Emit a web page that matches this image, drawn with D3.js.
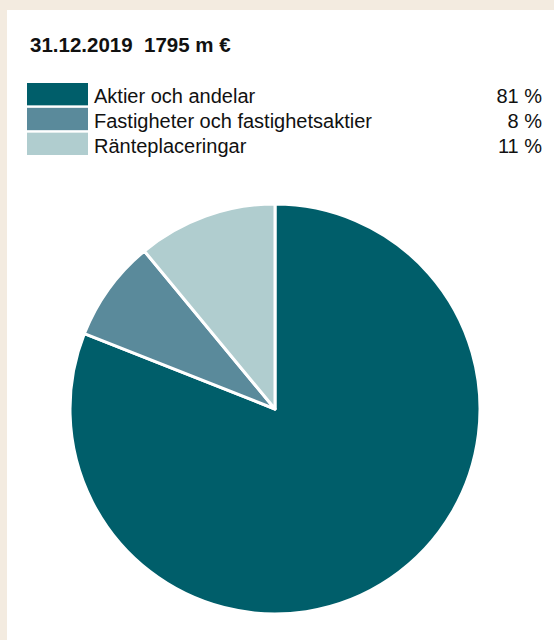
<!DOCTYPE html>
<html>
<head>
<meta charset="utf-8">
<script src="https://cdn.jsdelivr.net/npm/d3@7"></script>
<style>
  body { margin: 0; background: #f3ebe0; }
  svg { display: block; }
</style>
</head>
<body>
<svg></svg>
<script>
const width = 554;
const height = 640;

const title = '31.12.2019  1795 m €';
const categories = ['Aktier och andelar', 'Fastigheter och fastighetsaktier', 'Ränteplaceringar'];
const values = [81, 8, 11];
const colors = ['#005e6a', '#5a8a9b', '#b0cdcf'];

const svg = d3.select('svg')
  .attr('width', width)
  .attr('height', height);

// white panel
svg.append('rect')
  .attr('x', 7)
  .attr('y', 10)
  .attr('width', width - 7)
  .attr('height', height - 10)
  .attr('fill', '#fff');

svg.append('text')
  .attr('x', 30)
  .attr('y', 52)
  .attr('font-family', 'Liberation Sans, Arial, sans-serif')
  .attr('font-weight', 'bold')
  .attr('font-size', 20.5)
  .attr('fill', '#111')
  .attr('xml:space', 'preserve')
  .text(title);

const data = categories.map((c, i) => ({ name: c, value: values[i], color: colors[i] }));

// legend
const rowY = d3.scaleBand()
  .domain(categories)
  .range([83, 155])
  .paddingInner(0.1);

const legend = svg.append('g');

legend.selectAll('rect')
  .data(data)
  .enter()
  .append('rect')
  .attr('x', 27)
  .attr('y', d => rowY(d.name))
  .attr('width', 61)
  .attr('height', rowY.bandwidth())
  .attr('fill', d => d.color);

legend.selectAll('text.name')
  .data(data)
  .enter()
  .append('text')
  .attr('class', 'name')
  .attr('x', 94)
  .attr('y', d => rowY(d.name) + rowY.bandwidth() - 2)
  .attr('font-family', 'Liberation Sans, Arial, sans-serif')
  .attr('font-size', 20)
  .attr('fill', '#111')
  .text(d => d.name);

legend.selectAll('text.pct')
  .data(data)
  .enter()
  .append('text')
  .attr('class', 'pct')
  .attr('x', 542)
  .attr('y', d => rowY(d.name) + rowY.bandwidth() - 2)
  .attr('text-anchor', 'end')
  .attr('font-family', 'Liberation Sans, Arial, sans-serif')
  .attr('font-size', 20)
  .attr('fill', '#111')
  .text(d => d.value + ' %');

// pie
const pie = d3.pie()
  .sort(null)
  .value(d => d.value);

const arc = d3.arc()
  .innerRadius(0)
  .outerRadius(205);

svg.append('g')
  .attr('transform', 'translate(275,409)')
  .selectAll('path')
  .data(pie(data))
  .enter()
  .append('path')
  .attr('d', arc)
  .attr('fill', d => d.data.color)
  .attr('stroke', '#fff')
  .attr('stroke-width', 3)
  .attr('stroke-linejoin', 'round');
</script>
</body>
</html>
